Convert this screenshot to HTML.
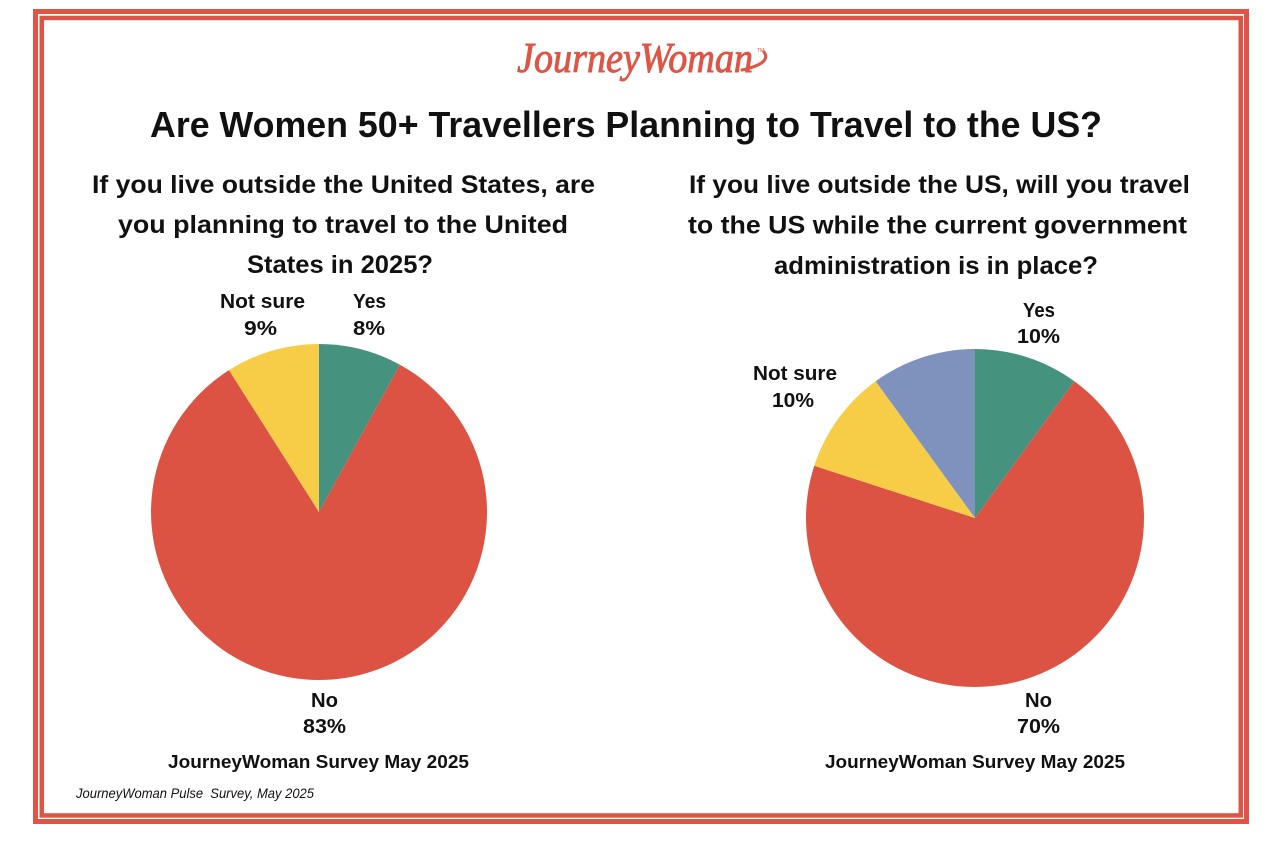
<!DOCTYPE html>
<html>
<head>
<meta charset="utf-8">
<style>
  html, body { margin: 0; padding: 0; background: #ffffff; }
  svg { display: block; }
  .b { font-family: "Liberation Sans", sans-serif; font-weight: bold; fill: #111111; }
</style>
</head>
<body>
<svg width="1284" height="844" viewBox="0 0 1284 844" xmlns="http://www.w3.org/2000/svg">
  <rect x="0" y="0" width="1284" height="844" fill="#ffffff"/>
  <!-- double border -->
  <rect x="35.5" y="11.5" width="1211" height="810" fill="none" stroke="#DE5546" stroke-width="5"/>
  <rect x="41.75" y="17.95" width="1199" height="797.5" fill="none" stroke="#DE5546" stroke-width="4.5"/>

  <!-- logo -->
  <text x="517" y="72" font-family="Liberation Serif, serif" font-style="italic" font-size="42" fill="#DE5546" stroke="#DE5546" stroke-width="0.9" textLength="236" lengthAdjust="spacingAndGlyphs">JourneyWoman</text>
  <path d="M742 70 C 760 66, 770 60, 764 52" fill="none" stroke="#DE5546" stroke-width="3" stroke-linecap="round"/>
  <text x="757" y="52" font-family="Liberation Sans, sans-serif" font-size="5" fill="#DE5546">TM</text>

  <!-- title -->
  <text class="b" x="150" y="137" font-size="36" textLength="952" lengthAdjust="spacingAndGlyphs">Are Women 50+ Travellers Planning to Travel to the US?</text>

  <!-- left subtitle -->
  <text class="b" x="92" y="193" font-size="25" textLength="503" lengthAdjust="spacingAndGlyphs">If you live outside the United States, are</text>
  <text class="b" x="118" y="233" font-size="25" textLength="450" lengthAdjust="spacingAndGlyphs">you planning to travel to the United</text>
  <text class="b" x="247" y="273" font-size="25" textLength="186" lengthAdjust="spacingAndGlyphs">States in 2025?</text>

  <!-- right subtitle -->
  <text class="b" x="689" y="193" font-size="25" textLength="501" lengthAdjust="spacingAndGlyphs">If you live outside the US, will you travel</text>
  <text class="b" x="688" y="233.5" font-size="25" textLength="499" lengthAdjust="spacingAndGlyphs">to the US while the current government</text>
  <text class="b" x="774" y="274" font-size="25" textLength="324" lengthAdjust="spacingAndGlyphs">administration is in place?</text>

  <!-- pie 1 -->
  <path d="M319 512 L319 344 A168 168 0 0 1 399.94 364.78 Z" fill="#45937F"/>
  <path d="M319 512 L399.94 364.78 A168 168 0 1 1 229.0 370.16 Z" fill="#DD5343"/>
  <path d="M319 512 L229.0 370.16 A168 168 0 0 1 319 344 Z" fill="#F7CD47"/>

  <!-- pie 1 labels -->
  <text class="b" x="220" y="308" font-size="20" textLength="85" lengthAdjust="spacingAndGlyphs">Not sure</text>
  <text class="b" x="244" y="335" font-size="20" textLength="33" lengthAdjust="spacingAndGlyphs">9%</text>
  <text class="b" x="353" y="308" font-size="20" textLength="33" lengthAdjust="spacingAndGlyphs">Yes</text>
  <text class="b" x="353" y="335" font-size="20" textLength="32" lengthAdjust="spacingAndGlyphs">8%</text>
  <text class="b" x="311" y="707" font-size="20" textLength="27" lengthAdjust="spacingAndGlyphs">No</text>
  <text class="b" x="303" y="733" font-size="20" textLength="43" lengthAdjust="spacingAndGlyphs">83%</text>
  <text class="b" x="168" y="768" font-size="18.5" textLength="301" lengthAdjust="spacingAndGlyphs">JourneyWoman Survey May 2025</text>

  <!-- pie 2 -->
  <path d="M975 518 L975 349 A169 169 0 0 1 1074.34 381.28 Z" fill="#45937F"/>
  <path d="M975 518 L1074.34 381.28 A169 169 0 1 1 814.27 465.78 Z" fill="#DD5343"/>
  <path d="M975 518 L814.27 465.78 A169 169 0 0 1 875.66 381.28 Z" fill="#F7CD47"/>
  <path d="M975 518 L875.66 381.28 A169 169 0 0 1 975 349 Z" fill="#7F92BE"/>

  <!-- pie 2 labels -->
  <text class="b" x="1023" y="317" font-size="20" textLength="32" lengthAdjust="spacingAndGlyphs">Yes</text>
  <text class="b" x="1017" y="343" font-size="20" textLength="43" lengthAdjust="spacingAndGlyphs">10%</text>
  <text class="b" x="753" y="380" font-size="20" textLength="84" lengthAdjust="spacingAndGlyphs">Not sure</text>
  <text class="b" x="772" y="407" font-size="20" textLength="42" lengthAdjust="spacingAndGlyphs">10%</text>
  <text class="b" x="1025" y="707" font-size="20" textLength="27" lengthAdjust="spacingAndGlyphs">No</text>
  <text class="b" x="1017" y="733" font-size="20" textLength="43" lengthAdjust="spacingAndGlyphs">70%</text>
  <text class="b" x="825" y="768" font-size="18.5" textLength="300" lengthAdjust="spacingAndGlyphs">JourneyWoman Survey May 2025</text>

  <!-- footnote -->
  <text x="76" y="798" font-family="Liberation Sans, sans-serif" font-style="italic" font-size="14" fill="#111111" textLength="238" lengthAdjust="spacingAndGlyphs" xml:space="preserve">JourneyWoman Pulse  Survey, May 2025</text>
</svg>
</body>
</html>
